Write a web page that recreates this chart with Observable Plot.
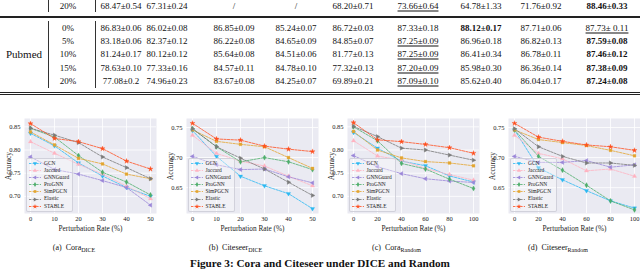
<!DOCTYPE html>
<html><head><meta charset="utf-8">
<script src="https://cdn.jsdelivr.net/npm/d3@7"></script>
<script src="https://cdn.jsdelivr.net/npm/@observablehq/plot@0.6"></script>
<style>
html,body{margin:0;padding:0;background:#fff;}
body{width:640px;height:271px;overflow:hidden;position:relative;font-family:"Liberation Serif","DejaVu Serif",serif;color:#111;}
.c{position:absolute;white-space:nowrap;transform:translate(-50%,-50%);font-size:9px;line-height:1;}
.b{font-weight:bold;}
.u{text-decoration:underline;text-decoration-thickness:0.6px;text-underline-offset:1.5px;}
.hr{position:absolute;left:0;width:640px;background:#222;}
.vr{position:absolute;width:0.8px;background:#333;}
.chart{position:absolute;top:100px;}
.legend{position:absolute;background:rgba(255,255,255,0.35);border:0.6px solid rgba(205,205,215,0.9);border-radius:2px;padding:1px 3px 1px 2px;font-size:5.4px;line-height:7.1px;color:#222;}
.legend div{display:flex;align-items:center;white-space:nowrap;}
.legend svg{margin-right:3px;}
.sub{position:absolute;top:248px;transform:translate(-50%,-50%);font-size:8px;white-space:nowrap;}
.sub sub{font-size:6px;vertical-align:-2px;}
.cap{position:absolute;top:263px;left:320px;transform:translate(-50%,-50%);font-size:11.2px;font-weight:bold;white-space:nowrap;}
</style>
</head><body>
<div id="table"></div>
<div id="charts"></div>
<div class="cap">Figure 3: Cora and Citeseer under DICE and Random</div>
<script>
// ---------- table data ----------
const topRowRate = "20%";
const topRowValues = ["68.47±0.54","67.31±0.24","/","/","68.20±0.71","73.66±0.64","64.78±1.33","71.76±0.92","88.46±0.33"];
const topRowBold = 8, topRowUnder = 5;
const pubmedLabel = "Pubmed";
const pubmedRates = ["0%","5%","10%","15%","20%"];
const pubmedValues = [
 ["86.83±0.06","86.02±0.08","86.85±0.09","85.24±0.07","86.72±0.03","87.33±0.18","88.12±0.17","87.71±0.06","87.73± 0.11"],
 ["83.18±0.06","82.37±0.12","86.22±0.08","84.65±0.09","84.85±0.07","87.25±0.09","86.96±0.18","86.82±0.13","87.59±0.08"],
 ["81.24±0.17","80.12±0.12","85.64±0.08","84.51±0.06","81.77±0.13","87.25±0.09","86.41±0.34","86.78±0.11","87.46±0.12"],
 ["78.63±0.10","77.33±0.16","84.57±0.11","84.78±0.10","77.32±0.13","87.20±0.09","85.98±0.30","86.36±0.14","87.38±0.09"],
 ["77.08±0.2","74.96±0.23","83.67±0.08","84.25±0.07","69.89±0.21","87.09±0.10","85.62±0.40","86.04±0.17","87.24±0.08"]
];
const pubmedBold = [6,8,8,8,8];
const pubmedUnder = [8,5,5,5,5];

// ---------- chart data ----------
const methods = ["GCN","Jaccard","GNNGuard","ProGNN","SimPGCN","Elastic","STABLE"];
const ratesDICE = [0,10,20,30,40,50];
const ratesRandom = [0,20,40,60,80,100];
const coraDICE = [
 [0.836,0.809,0.772,0.744,0.719,0.700],
 [0.818,0.793,0.769,0.748,0.722,0.695],
 [0.785,0.758,0.748,0.734,0.719,0.681],
 [0.847,0.828,0.788,0.752,0.731,0.703],
 [0.839,0.811,0.782,0.770,0.748,0.738],
 [0.847,0.832,0.816,0.785,0.762,0.738],
 [0.857,0.825,0.818,0.803,0.776,0.759]
];
const citeseerDICE = [
 [0.745,0.702,0.669,0.653,0.640,0.615],
 [0.737,0.707,0.694,0.686,0.669,0.653],
 [0.702,0.688,0.680,0.681,0.668,0.658],
 [0.748,0.718,0.693,0.700,0.693,0.680],
 [0.746,0.727,0.722,0.718,0.700,0.682],
 [0.748,0.718,0.699,0.681,0.659,0.637],
 [0.757,0.731,0.729,0.719,0.714,0.710]
];
const coraRandom = [
 [0.838,0.804,0.776,0.766,0.744,0.731],
 [0.820,0.787,0.778,0.760,0.747,0.735],
 [0.788,0.764,0.749,0.738,0.733,0.730],
 [0.850,0.820,0.771,0.759,0.737,0.717],
 [0.840,0.800,0.783,0.775,0.772,0.766],
 [0.851,0.829,0.804,0.800,0.789,0.778],
 [0.859,0.822,0.818,0.812,0.805,0.793]
];
const citeseerRandom = [
 [0.746,0.683,0.663,0.645,0.628,0.616],
 [0.737,0.707,0.698,0.678,0.681,0.669],
 [0.702,0.692,0.692,0.695,0.684,0.688],
 [0.746,0.702,0.679,0.654,0.628,0.613],
 [0.746,0.730,0.725,0.720,0.712,0.703],
 [0.748,0.718,0.702,0.691,0.691,0.687],
 [0.757,0.734,0.727,0.721,0.718,0.712]
];
const yTicksCora = [0.70,0.75,0.80,0.85];
const yTicksCiteseer = [0.65,0.70,0.75];
const panelNames = ["Cora","Citeseer","Cora","Citeseer"];
const panelAttacks = ["DICE","DICE","Random","Random"];
const panelLetters = ["(a)","(b)","(c)","(d)"];

// ---------- styles ----------
const colors = ["#2cb9f2","#ffb3c1","#9b87d8","#4fae6c","#e3a530","#7a7a7a","#ff4f1f"];
const symbols = ["triangle","triangle","triangle","diamond","square","triangle","star"];
const rotations = [180,0,-90,0,0,90,0];

// ---------- table layout ----------
const colX = [121,167,234,296,353,418,481,541,607];
const rateX = 68;
const tbl = document.getElementById("table");
function cell(text, x, y, cls){
  const d = document.createElement("div");
  d.className = "c " + (cls||"");
  d.style.left = x+"px"; d.style.top = y+"px";
  d.textContent = text; tbl.appendChild(d);
  return d;
}
function rule(cls, style){ const d=document.createElement("div"); d.className=cls; Object.assign(d.style, style); tbl.appendChild(d); }
cell(topRowRate, rateX, 5.5);
topRowValues.forEach((v,i)=>cell(v, colX[i], 5.5, (i===topRowBold?"b":"")+" "+(i===topRowUnder?"u":"")));
const rowY = [27.5,41,54,67.5,80.5];
pubmedRates.forEach((r,k)=>{
  cell(r, rateX, rowY[k]);
  pubmedValues[k].forEach((v,i)=>cell(v, colX[i], rowY[k], (i===pubmedBold[k]?"b":"")+" "+(i===pubmedUnder[k]?"u":"")));
});
cell(pubmedLabel, 24, 54, "").style.fontSize = "11px";
rule("hr",{top:"16px",height:"1.5px"});
rule("hr",{top:"91.5px",height:"0.9px"});
rule("hr",{top:"94px",height:"0.9px"});
rule("vr",{left:"48px",top:"0px",height:"12px"});
rule("vr",{left:"95px",top:"0px",height:"12px"});
rule("vr",{left:"48px",top:"21px",height:"67px"});
rule("vr",{left:"95px",top:"21px",height:"67px"});

// ---------- charts ----------
const panels = [
  {values: coraDICE, x: ratesDICE, xDomain:[-2.5,52.5], yDomain:[0.663,0.868], yTicks: yTicksCora},
  {values: citeseerDICE, x: ratesDICE, xDomain:[-2.5,52.5], yDomain:[0.607,0.765], yTicks: yTicksCiteseer},
  {values: coraRandom, x: ratesRandom, xDomain:[-5,105], yDomain:[0.663,0.868], yTicks: yTicksCora},
  {values: citeseerRandom, x: ratesRandom, xDomain:[-5,105], yDomain:[0.607,0.765], yTicks: yTicksCiteseer}
];
const frameLeft = [24,185.5,346.5,508];
const frameW = 132, mL = 26, mR = 2, mT = 18, mB = 25, frameH = 95;
const shapes = {triangle:d3.symbolTriangle, diamond:d3.symbolDiamond, square:d3.symbolSquare, star:d3.symbolStar};
const chartsDiv = document.getElementById("charts");
panels.forEach((p, pi) => {
  const data = methods.flatMap((m,i)=>p.x.map((x,j)=>({method:m, idx:i, x, y:p.values[i][j]})));
  const fig = Plot.plot({
    width: frameW+mL+mR, height: frameH+mT+mB,
    marginLeft: mL, marginRight: mR, marginTop: mT, marginBottom: mB,
    style: {fontFamily:"Liberation Serif, serif", fontSize:"6.5px", background:"transparent", color:"#222", overflow:"visible"},
    x: {domain:p.xDomain, ticks:p.x, tickSize:0, tickPadding:3, label:"Perturbation Rate (%)", labelAnchor:"center", labelArrow:"none", labelOffset:17},
    y: {domain:p.yDomain, ticks:p.yTicks, tickSize:0, tickPadding:4, tickFormat:d3.format(".2f"), label:"Accuracy", labelAnchor:"center", labelArrow:"none", labelOffset:19},
    color: {domain: methods, range: colors},
    symbol: {domain: methods, range: symbols},
    marks: [
      Plot.frame({fill:"#eaeaf2", stroke:"none"}),
      Plot.gridX(p.x, {stroke:"#fff", strokeOpacity:1, strokeWidth:0.8}),
      Plot.gridY(p.yTicks, {stroke:"#fff", strokeOpacity:1, strokeWidth:0.8}),
      Plot.line(data, {x:"x", y:"y", z:"method", stroke:"method", strokeWidth:0.8, strokeDasharray:"2.4,1.2"}),
      Plot.dot(data, {x:"x", y:"y", fill:"method", stroke:"method", strokeWidth:0.3, symbol:"method", r:1.6, rotate: d=>rotations[d.idx]})
    ]
  });
  fig.querySelectorAll('[aria-label="x-axis label"], [aria-label="y-axis label"]').forEach(g => g.setAttribute("font-size", "7.3"));
  fig.querySelectorAll('[aria-label="x-axis label"] text, [aria-label="y-axis label"] text').forEach(t => t.style.fontSize = "7.3px");
  fig.classList.add("chart");
  fig.style.left = (frameLeft[pi]-mL)+"px";
  chartsDiv.appendChild(fig);
  const lg = document.createElement("div");
  lg.className = "legend";
  lg.style.left = (frameLeft[pi]+2)+"px";
  lg.style.top = "158px";
  methods.forEach((m,i)=>{
    const row = document.createElement("div");
    const path = d3.symbol(shapes[symbols[i]], 7)();
    row.innerHTML = `<svg width="12" height="5" viewBox="0 0 12 5"><line x1="0" y1="2.5" x2="12" y2="2.5" stroke="${colors[i]}" stroke-width="0.8" stroke-dasharray="2.4,1.2"/><path d="${path}" transform="translate(6,2.5) rotate(${rotations[i]})" fill="${colors[i]}"/></svg><span>${m}</span>`;
    lg.appendChild(row);
  });
  chartsDiv.appendChild(lg);
  const sc = document.createElement("div");
  sc.className = "sub";
  sc.style.left = (frameLeft[pi]+50)+"px";
  sc.innerHTML = `${panelLetters[pi]}&nbsp; ${panelNames[pi]}<sub>${panelAttacks[pi]}</sub>`;
  chartsDiv.appendChild(sc);
});
</script>
</body></html>
